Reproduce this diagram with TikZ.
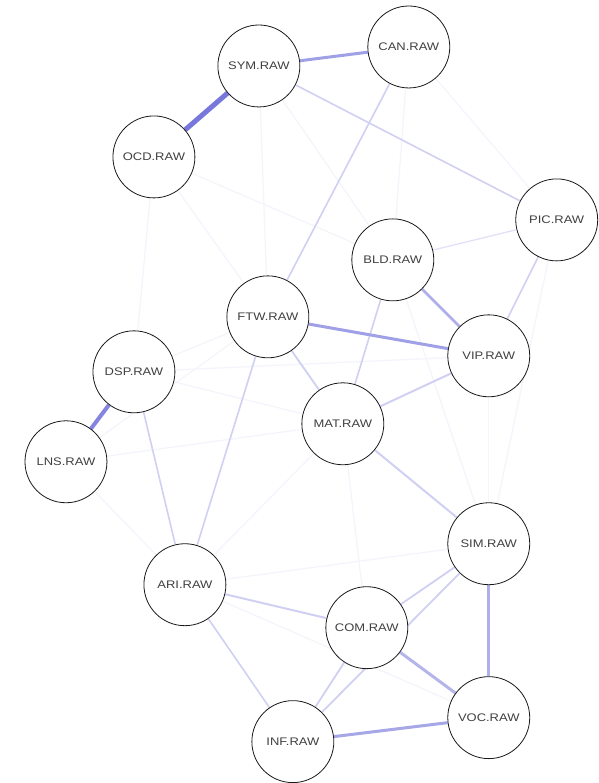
\documentclass[tikz,border=0pt]{standalone}
\usepackage{fontspec}
\setmainfont{Liberation Sans}
\definecolor{edgeblue}{RGB}{120,120,220}
\pgfdeclarelayer{paper}
\pgfdeclarelayer{edges}
\pgfsetlayers{paper,edges,main}
\tikzset{
  x=1pt, y=-1pt,
  var/.style={circle, draw=black!90, line width=0.8pt, fill=white,
    minimum size=82pt, inner sep=0pt,
    font=\fontsize{11}{12}\selectfont, text=black!75},
  strong/.style={draw=edgeblue, line width=#1},
  mid/.style={draw=edgeblue!35, line width=#1},
  weak/.style={draw=edgeblue!8, line width=#1},
}
\newcommand{\lbl}[1]{\scalebox{1.18}[1]{#1}}
\begin{document}
\begin{tikzpicture}
\begin{pgfonlayer}{paper}
\useasboundingbox[fill=white] (0,0) rectangle (599,783);
\end{pgfonlayer}

% variables
\node[var] (SYM) at (259,66)  {\lbl{SYM.RAW}};
\node[var] (CAN) at (409,47)  {\lbl{CAN.RAW}};
\node[var] (OCD) at (154,157) {\lbl{OCD.RAW}};
\node[var] (PIC) at (557,220) {\lbl{PIC.RAW}};
\node[var] (BLD) at (393,260) {\lbl{BLD.RAW}};
\node[var] (FTW) at (268,317) {\lbl{FTW.RAW}};
\node[var] (VIP) at (489,356) {\lbl{VIP.RAW}};
\node[var] (DSP) at (134,372) {\lbl{DSP.RAW}};
\node[var] (MAT) at (343,424) {\lbl{MAT.RAW}};
\node[var] (LNS) at (66,462)  {\lbl{LNS.RAW}};
\node[var] (SIM) at (489,544) {\lbl{SIM.RAW}};
\node[var] (ARI) at (185,585) {\lbl{ARI.RAW}};
\node[var] (COM) at (367,628) {\lbl{COM.RAW}};
\node[var] (VOC) at (489,718) {\lbl{VOC.RAW}};
\node[var] (INF) at (293,742) {\lbl{INF.RAW}};

\begin{pgfonlayer}{edges}
% weak associations
\draw[weak=1.2pt] (OCD) -- (BLD);
\draw[weak=1.2pt] (OCD) -- (DSP);
\draw[weak=1.2pt] (OCD) -- (FTW);
\draw[weak=1.2pt] (SYM) -- (FTW);
\draw[weak=1.2pt] (SYM) -- (BLD);
\draw[weak=1.2pt] (CAN) -- (PIC);
\draw[weak=1.2pt] (CAN) -- (BLD);
\draw[weak=1.2pt] (DSP) -- (FTW);
\draw[weak=1.2pt] (DSP) -- (MAT);
\draw[weak=1.2pt] (DSP) -- (VIP);
\draw[weak=1.2pt] (LNS) -- (MAT);
\draw[weak=1.2pt] (LNS) -- (ARI);
\draw[weak=1.2pt] (LNS) -- (FTW);
\draw[weak=1.2pt] (MAT) -- (COM);
\draw[weak=1.2pt] (MAT) -- (ARI);
\draw[weak=1.2pt] (BLD) -- (SIM);
\draw[weak=1.2pt] (PIC) -- (SIM);
\draw[weak=1.2pt] (VIP) -- (SIM);
\draw[weak=1.2pt] (ARI) -- (SIM);
\draw[weak=1.2pt] (ARI) -- (VOC);
% moderate associations
\draw[mid=1.3pt, draw=edgeblue!22] (PIC) -- (BLD);
\draw[mid=1.6pt] (SYM) -- (PIC);
\draw[mid=1.6pt] (CAN) -- (FTW);
\draw[mid=1.6pt] (PIC) -- (VIP);
\draw[mid=1.6pt] (BLD) -- (MAT);
\draw[mid=1.8pt] (FTW) -- (MAT);
\draw[mid=2pt]   (MAT) -- (VIP);
\draw[mid=2pt]   (MAT) -- (SIM);
\draw[mid=1.6pt] (FTW) -- (ARI);
\draw[mid=1.6pt] (DSP) -- (ARI);
\draw[mid=2pt]   (ARI) -- (COM);
\draw[mid=1.6pt] (ARI) -- (INF);
\draw[mid=1.8pt] (COM) -- (SIM);
\draw[mid=1.8pt] (INF) -- (SIM);
\draw[mid=1.8pt] (INF) -- (COM);
% strong associations
\draw[strong=2.6pt, draw=edgeblue!60] (BLD) -- (VIP);
\draw[strong=3pt,   draw=edgeblue!70] (SYM) -- (CAN);
\draw[strong=3pt,   draw=edgeblue!70] (FTW) -- (VIP);
\draw[strong=3pt,   draw=edgeblue!60] (SIM) -- (VOC);
\draw[strong=3pt,   draw=edgeblue!65] (INF) -- (VOC);
\draw[strong=3pt,   draw=edgeblue!55] (COM) -- (VOC);
\draw[strong=4pt,   draw=edgeblue!90] (DSP) -- (LNS);
\draw[strong=5pt]   (SYM) -- (OCD);
\end{pgfonlayer}

\end{tikzpicture}
\end{document}
